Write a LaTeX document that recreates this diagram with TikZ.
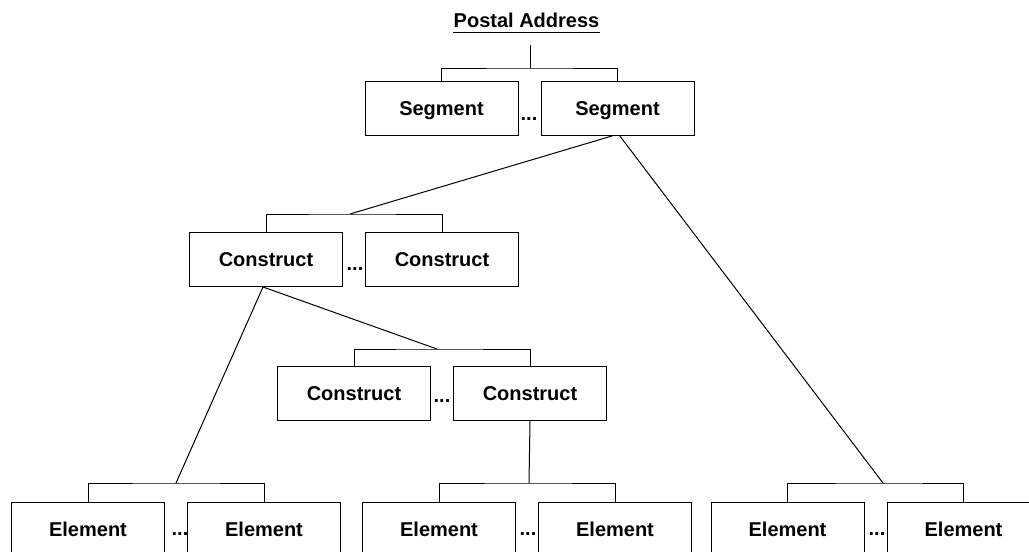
\documentclass[tikz,border=0pt]{standalone}
\usepackage{fontspec}
\setmainfont{Liberation Sans}
\usetikzlibrary{positioning}

\begin{document}
\begin{tikzpicture}[x=1pt, y=-1pt, line width=1pt,
  font=\fontsize{20}{24}\selectfont\bfseries,
  node distance=22pt,
  box/.style={draw, minimum width=153pt, minimum height=54pt, inner sep=0pt,
    text height=14.3pt, text depth=0pt},
  dots/.style={inner sep=0pt, anchor=base}]
  \useasboundingbox (0,0) rectangle (1029,552);
  \clip (0,0) rectangle (1029,552);

  % title
  \node[inner sep=0pt, anchor=base] (title) at (526.5,27) {Postal Address};
  \draw ([yshift=-5pt]title.base west) -- ([yshift=-5pt]title.base east);

  % segments
  \node[box] (segL) at (441.5,108) {Segment};
  \node[box, right=of segL] (segR) {Segment};
  \node[dots] (segdots) at (529,120) {...};

  % constructs, first level
  \node[box] (conL) at (266,259.5) {Construct};
  \node[box, right=of conL] (conR) {Construct};
  \node[dots] (condots) at (355,270) {...};

  % constructs, second level
  \node[box] (subL) at (354,393.5) {Construct};
  \node[box, right=of subL] (subR) {Construct};
  \node[dots] (subdots) at (442,402) {...};

  % elements
  \node[box] (elA1) at (88,529) {Element};
  \node[box, right=of elA1] (elA2) {Element};
  \node[dots] (elAdots) at (180,535) {...};
  \node[box] (elB1) at (439,529) {Element};
  \node[box, right=of elB1] (elB2) {Element};
  \node[dots] (elBdots) at (528,535) {...};
  \node[box] (elC1) at (787.5,529) {Element};
  \node[box, right=of elC1] (elC2) {Element};
  \node[dots] (elCdots) at (877,535) {...};

  % joints on the brackets
  \coordinate (jTop) at (530,68);
  \coordinate (jCon) at (350,214);
  \coordinate (jSub) at (437,349);
  \coordinate (jA) at (176,483);
  \coordinate (jB) at (529,483);
  \coordinate (jC) at (883,483);

  % brackets
  \draw (segL.north) |- (jTop) -| (segR.north);
  \draw (conL.north) |- (jCon) -| (conR.north);
  \draw (subL.north) |- (jSub) -| (subR.north);
  \draw (elA1.north) |- (jA) -| (elA2.north);
  \draw (elB1.north) |- (jB) -| (elB2.north);
  \draw (elC1.north) |- (jC) -| (elC2.north);

  % connectors
  \draw ([xshift=3.5pt, yshift=-18pt]title.base) -- (jTop);
  \draw ([xshift=-4pt]segR.south) -- (jCon);
  \draw ([xshift=2pt]segR.south) -- (jC);
  \draw ([xshift=-3pt]conL.south) -- (jSub);
  \draw ([xshift=-3pt]conL.south) -- (jA);
  \draw (subR.south) -- (jB);
\end{tikzpicture}
\end{document}
